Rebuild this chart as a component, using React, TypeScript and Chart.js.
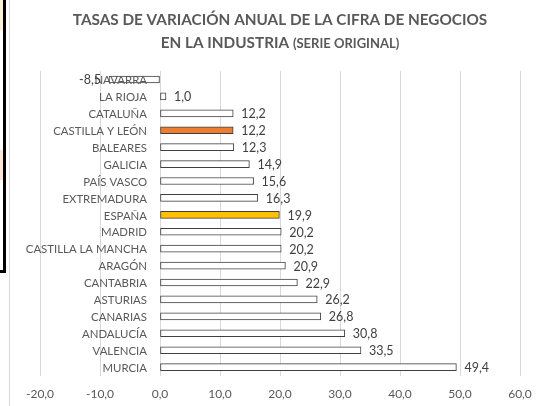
import React, { useEffect, useRef } from "react";
import { Chart, registerables } from "chart.js";

Chart.register(...registerables);

const CATEGORIES = [
  "NAVARRA",
  "LA RIOJA",
  "CATALUÑA",
  "CASTILLA Y LEÓN",
  "BALEARES",
  "GALICIA",
  "PAÍS VASCO",
  "EXTREMADURA",
  "ESPAÑA",
  "MADRID",
  "CASTILLA LA MANCHA",
  "ARAGÓN",
  "CANTABRIA",
  "ASTURIAS",
  "CANARIAS",
  "ANDALUCÍA",
  "VALENCIA",
  "MURCIA",
];
const VALUES = [
  -8.5, 1.0, 12.2, 12.2, 12.3, 14.9, 15.6, 16.3, 19.9, 20.2, 20.2, 20.9, 22.9,
  26.2, 26.8, 30.8, 33.5, 49.4,
];
const HIGHLIGHTS: Record<string, string> = {
  "CASTILLA Y LEÓN": "#ED7D31",
  "ESPAÑA": "#FFC000",
};
const X_TICKS = [-20, -10, 0, 10, 20, 30, 40, 50, 60];
const TITLE_LINE1 = "TASAS DE VARIACIÓN ANUAL DE LA CIFRA DE NEGOCIOS";
const TITLE_LINE2_MAIN = "EN LA INDUSTRIA ";
const TITLE_LINE2_SUB = "(SERIE ORIGINAL)";

const FONT = "Lato, 'Noto Sans', sans-serif";
const TEXT_COLOR = "#595959";

const fmt = (v: number) => v.toFixed(1).replace(".", ",");

// Category labels drawn next to the zero line (Excel style), on top of the bars
const categoryLabels = {
  id: "categoryLabels",
  afterDatasetsDraw(chart: any) {
    const ctx = chart.ctx;
    const xScale = chart.scales.x;
    const yScale = chart.scales.y;
    const x0 = xScale.getPixelForValue(0);
    ctx.save();
    ctx.font = `11.4px ${FONT}`;
    ctx.fillStyle = TEXT_COLOR;
    ctx.textBaseline = "middle";
    ctx.textAlign = "right";
    CATEGORIES.forEach((c, i) => {
      ctx.fillText(c, x0 - 13, yScale.getPixelForValue(i) + 1);
    });
    ctx.restore();
  },
};

const valueLabels = {
  id: "valueLabels",
  afterDatasetsDraw(chart: any) {
    const ctx = chart.ctx;
    const meta = chart.getDatasetMeta(0);
    ctx.save();
    ctx.font = `12.5px ${FONT}`;
    ctx.fillStyle = "#404040";
    ctx.textBaseline = "middle";
    meta.data.forEach((bar: any, i: number) => {
      const v = VALUES[i];
      const { x, y } = bar.getProps(["x", "y"], true);
      if (v >= 0) {
        ctx.textAlign = "left";
        ctx.fillText(fmt(v), x + 8, y + 1);
      } else {
        ctx.textAlign = "right";
        ctx.fillText(fmt(v), x - 8, y + 1);
      }
    });
    ctx.restore();
  },
};

const titlePlugin = {
  id: "mixedTitle",
  afterDraw(chart: any) {
    const ctx = chart.ctx;
    const ca = chart.chartArea;
    const cx = (ca.left + ca.right) / 2;
    ctx.save();
    ctx.fillStyle = TEXT_COLOR;
    ctx.textBaseline = "middle";
    const big = `bold 15.3px ${FONT}`;
    const small = `bold 13px ${FONT}`;
    ctx.font = big;
    ctx.textAlign = "center";
    ctx.fillText(TITLE_LINE1, cx, 20);
    const w1 = ctx.measureText(TITLE_LINE2_MAIN).width;
    ctx.font = small;
    const w2 = ctx.measureText(TITLE_LINE2_SUB).width;
    const start = cx - (w1 + w2) / 2;
    ctx.textAlign = "left";
    ctx.font = big;
    ctx.fillText(TITLE_LINE2_MAIN, start, 43);
    ctx.font = small;
    ctx.fillText(TITLE_LINE2_SUB, start + w1, 44);
    ctx.restore();
  },
};

export default function App() {
  const canvasRef = useRef<HTMLCanvasElement | null>(null);

  useEffect(() => {
    if (!canvasRef.current) return;
    const chart = new Chart(canvasRef.current, {
      type: "bar",
      data: {
        labels: CATEGORIES,
        datasets: [
          {
            data: VALUES,
            backgroundColor: CATEGORIES.map((c) => HIGHLIGHTS[c] || "#FFFFFF"),
            borderColor: "#404040",
            borderWidth: 1,
            borderSkipped: false,
            barThickness: 7,
          },
        ],
      },
      options: {
        indexAxis: "y",
        responsive: false,
        animation: false,
        layout: { padding: { left: 40, right: 25, top: 71, bottom: -6 } },
        plugins: {
          legend: { display: false },
          title: { display: false },
          tooltip: { enabled: false },
        },
        scales: {
          x: {
            type: "linear",
            min: X_TICKS[0],
            max: X_TICKS[X_TICKS.length - 1],
            ticks: {
              stepSize: X_TICKS[1] - X_TICKS[0],
              padding: 11,
              color: TEXT_COLOR,
              font: { family: FONT, size: 12 },
              callback: (v: any) => fmt(Number(v)),
            },
            grid: { color: "#D9D9D9", drawTicks: false },
            border: { display: false },
          },
          y: {
            type: "category",
            position: { x: 0 } as any,
            grid: { display: false, drawTicks: false },
            border: { display: false },
            ticks: { display: false },
          },
        },
      },
      plugins: [categoryLabels, valueLabels, titlePlugin],
    });
    return () => chart.destroy();
  }, []);

  return (
    <div style={{ position: "fixed", left: 0, top: 0, width: 545, height: 406, background: "#fff" }}>
      <canvas ref={canvasRef} width={545} height={406} style={{ display: "block" }} />
      <div style={{ position: "absolute", left: 9, top: 0, width: 1, height: 406, background: "#D9D9D9" }} />
      <div style={{ position: "absolute", left: 0, top: 0, width: 3, height: 30, background: "#FDF0D5" }} />
      <div style={{ position: "absolute", left: 0, top: 150, width: 3, height: 30, background: "#FCE4D6" }} />
      <div style={{ position: "absolute", left: 3, top: 0, width: 3, height: 273, background: "#000" }} />
      <div style={{ position: "absolute", left: 0, top: 270, width: 6, height: 3, background: "#000" }} />
    </div>
  );
}
